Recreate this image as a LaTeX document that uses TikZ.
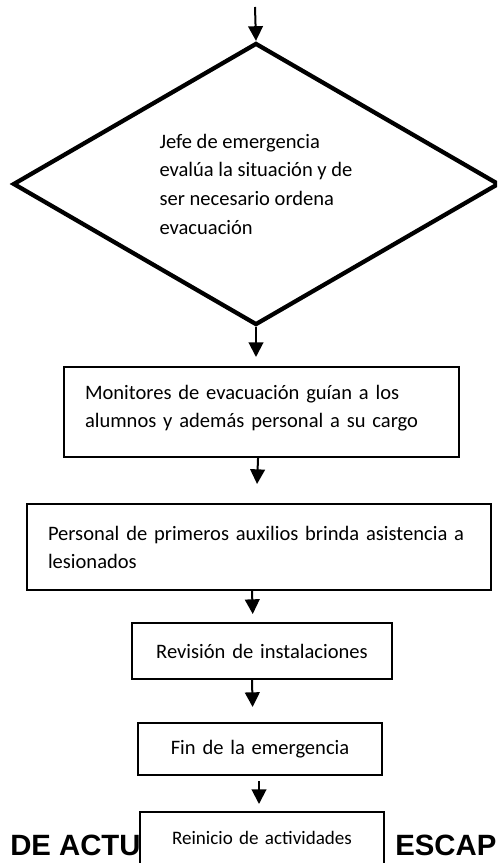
\documentclass[tikz,border=0pt]{standalone}
\usepackage{fontspec}
\setmainfont{Carlito}
\newfontfamily\arialfont{Liberation Sans}
\usetikzlibrary{shapes.geometric,arrows.meta}
\begin{document}
\begin{tikzpicture}[x=0.75pt,y=-0.75pt,
  boxnode/.style={draw,line width=1.5pt,rectangle,fill=white,inner ysep=0pt,inner xsep=15.75pt,
    font=\fontsize{15.4}{21}\selectfont},
  arr/.style={line width=1.5pt,-{Triangle[length=11pt,width=11pt]}},
  titletext/.style={anchor=base west,inner sep=0pt,font=\arialfont\bfseries\fontsize{22}{26}\selectfont}
]
\useasboundingbox (0,0) rectangle (497,863);
\clip (0,0) rectangle (497,863);
\fill[white] (0,0) rectangle (497,863);

\node[titletext] (t1) at (10,855) {DE ACTU};
\node[titletext] (t2) at (395,855) {ESCAPE};

\coordinate (start) at (255,7);
\node[diamond,draw,line width=3.2pt,aspect=1.72,minimum width=364.5pt,minimum height=211.5pt,inner sep=0pt,
  align=left,font=\fontsize{15.4}{21.5}\selectfont] (dia) at (256,184)
  {Jefe de emergencia\\evalúa la situación y de\\ser necesario ordena\\evacuación};

\node[boxnode,minimum width=296.25pt,minimum height=67.5pt,text width=264.75pt,align=left] (b1) at (261.5,412)
  {Monitores de evacuación guían a los\\alumnos y además personal a su cargo\rule[-8pt]{0pt}{8pt}};
\node[boxnode,minimum width=348pt,minimum height=64.5pt,text width=316.5pt,align=left] (b2) at (259,547)
  {Personal de primeros auxilios brinda asistencia a\\lesionados};
\node[boxnode,minimum width=195pt,minimum height=42pt,text width=163.5pt,align=center] (b3) at (262,651)
  {Revisión de instalaciones};
\node[boxnode,minimum width=183pt,minimum height=39pt,text width=151.5pt,align=center] (b4) at (260,749)
  {Fin de la emergencia};
\node[boxnode,minimum width=183pt,minimum height=39pt,text width=151.5pt,align=center,
  font=\fontsize{14.3}{18}\selectfont] (b5) at (262,838)
  {Reinicio de actividades};

\draw[arr] (start) -- (dia.north);
\draw[arr,shorten >=6.75pt] (dia.south) -- (dia.south |- b1.north);
\draw[arr,shorten >=14.25pt] ([xshift=-2.6pt]b1.south) -- ([xshift=-2pt]b2.north);
\draw[arr,shorten >=6pt] ([xshift=-5.25pt]b2.south) -- ([xshift=-6.75pt]b3.north);
\draw[arr,shorten >=11.25pt] ([xshift=-7.5pt]b3.south) -- ([xshift=-5.25pt]b4.north);
\draw[arr,shorten <=3.75pt,shorten >=5.25pt] ([xshift=-0.75pt]b4.south) -- ([xshift=-2.25pt]b5.north);
\end{tikzpicture}
\end{document}
